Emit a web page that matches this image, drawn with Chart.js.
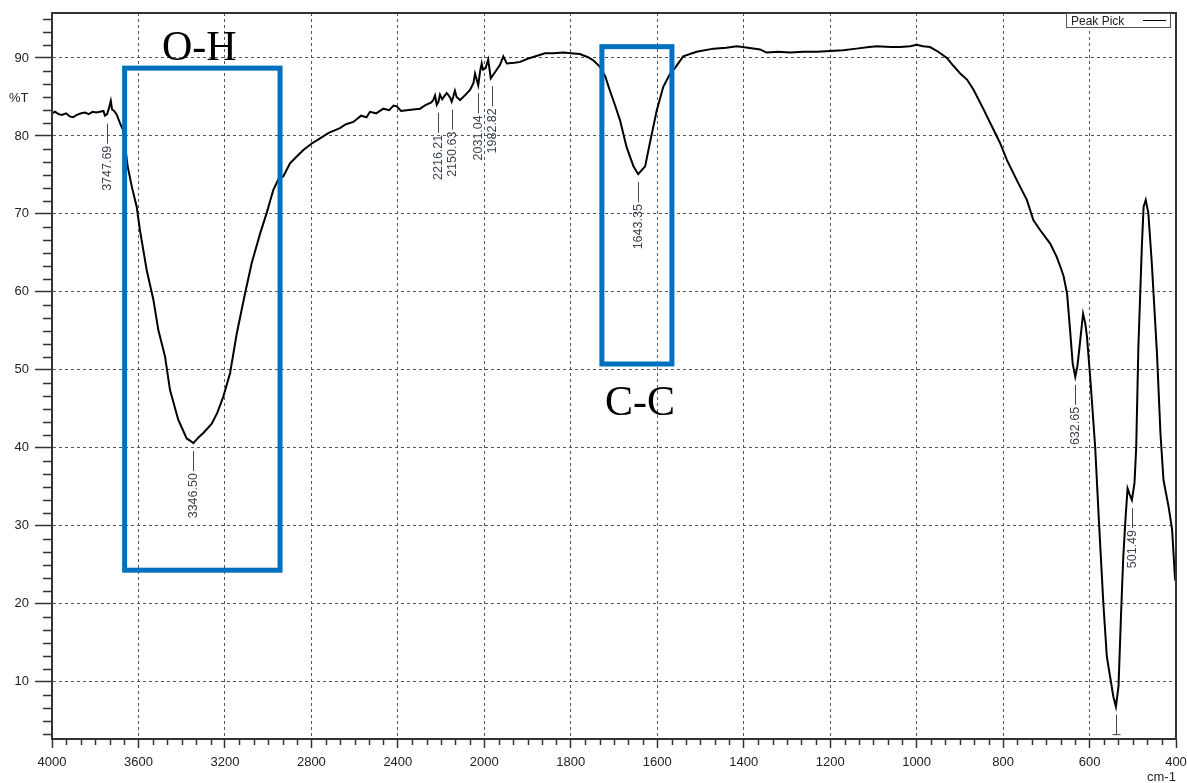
<!DOCTYPE html>
<html>
<head>
<meta charset="utf-8">
<script src="https://cdn.jsdelivr.net/npm/chart.js@4.4.0/dist/chart.umd.min.js"></script>
<style>
    html, body { margin: 0; padding: 0; background: #fff; }
    #wrap { position: relative; width: 1187px; height: 783px; }
</style>
</head>
<body>
<div id="wrap"><canvas id="ftir" width="1187" height="783"></canvas></div>
<script>
// Spectrum: wavenumber (cm-1) and %T
    var wavenumbers = [4000,3986,3970,3954,3935,3918,3903,3885,3865,3847,3830,3812,3795,3778,3762,3755,3745,3736,3728,3722,3712,3700,3685,3672,3660,3650,3630,3608,3593,3562,3531,3508,3477,3454,3416,3377,3360,3346,3320,3300,3261,3235,3207,3176,3145,3107,3076,3037,3007,2976,2950,2930,2899,2870,2837,2800,2760,2720,2668,2640,2606,2570,2545,2529,2500,2467,2440,2420,2405,2385,2359,2330,2297,2270,2245,2236,2228,2220,2212,2205,2195,2185,2174,2165,2158,2151,2144,2136,2128,2112,2090,2066,2050,2043,2036,2028,2020,2012,2006,1997,1991,1985,1975,1964,1956,1948,1930,1917,1900,1883,1860,1840,1817,1800,1779,1760,1748,1733,1720,1710,1698,1686,1671,1655,1644,1628,1617,1601,1586,1570,1559,1540,1509,1470,1440,1416,1390,1362,1347,1320,1293,1262,1230,1201,1170,1139,1110,1092,1060,1038,1015,1000,985,969,950,930,915,899,883,868,846,822,807,791,768,745,730,714,691,676,666,660,652,645,639,633,628,624,615,610,606,598,587,578,568,560,545,539,533,527,522,516,512,507,502,496,492,487,479,475,470,464,456,444,436,429,417,409,402];
    var transmittance = [82.9,83.1,82.8,82.7,82.9,82.5,82.4,82.7,82.9,83.0,82.8,83.1,83.0,83.1,83.2,82.6,82.8,83.6,84.5,83.4,83.2,82.7,81.6,80.8,78.3,76.1,73.4,70.9,67.9,62.8,59.0,55.1,51.7,47.4,43.6,41.2,40.9,40.6,41.4,41.9,43.1,44.5,46.6,49.6,54.7,59.8,63.7,67.5,70.1,73.1,74.6,74.8,76.5,77.3,78.2,79.0,79.7,80.4,81.0,81.5,81.8,82.6,82.4,83.1,82.9,83.5,83.3,83.9,83.8,83.2,83.3,83.4,83.5,84.0,84.3,84.6,85.2,84.0,84.4,85.3,84.7,85.1,85.5,85.2,84.9,84.4,85.0,85.8,85.0,84.6,85.2,85.9,86.8,88.0,87.3,86.5,88.2,89.3,88.5,88.7,89.8,87.4,88.2,89.1,90.2,89.3,89.4,89.5,89.9,90.2,90.6,90.6,90.7,90.6,90.5,90.1,89.7,88.9,87.6,85.9,84.0,82.0,78.6,76.1,75.1,76.1,79.1,83.3,86.3,88.0,88.7,90.2,90.8,91.2,91.3,91.5,91.3,91.1,90.7,90.8,90.7,90.8,90.8,90.9,91.0,91.2,91.4,91.5,91.4,91.4,91.5,91.7,91.5,91.4,90.8,90.0,89.0,88.0,87.2,85.9,83.5,80.8,79.1,76.9,74.3,71.8,69.2,67.9,66.2,64.5,63.0,62.0,59.8,55.1,50.8,49.1,50.5,52.5,57.2,56.0,54.3,48.7,40.1,30.3,20.0,13.2,8.1,6.8,9.4,18.8,26.0,31.6,34.8,34.0,33.3,35.5,40.1,53.0,65.8,70.9,71.8,70.1,63.7,52.1,41.9,35.9,32.4,29.5,23.0];

// Axis ticks (x axis is split: 400 per division above 2000, 200 below)
    var xTickLabels = ['4000','3600','3200','2800','2400','2000','1800','1600','1400','1200','1000','800','600','400'];
    var yTickValues = [10,20,30,40,50,60,70,80,90];

// Peak pick
    var peakWn = [3747.69,3346.50,2216.21,2150.63,2031.04,1982.82,1643.35,632.65,501.49,538.5];
    var peakT = [82.6,40.6,84.0,84.4,86.5,87.4,75.1,49.1,33.3,6.8];
    var peakLabels = ['3747.69','3346.50','2216.21','2150.63','2031.04','1982.82','1643.35','632.65','501.49',''];

// Highlight boxes
    var boxLabels = ['O-H','C-C'];
    var boxWnFrom = [3664,1728];
    var boxWnTo = [2945,1566];
    var boxTTop = [88.7,91.45];
    var boxTBottom = [24.3,50.75];
    var boxLabelSide = ['top','bottom'];

function wnToAxis(w){
    if (w >= 2000) return (4000 - w) / 400;
    return 5 + (2000 - w) / 200;
}

var points = [];
for (let i = 0; i < wavenumbers.length; i++) {
    points.push({x: wnToAxis(wavenumbers[i]), y: transmittance[i]});
}

var ftirDecor = {
    id: 'ftirDecor',
    afterDraw: function(chart){
        let ctx = chart.ctx;
        let a = chart.chartArea;
        let xs = chart.scales.x, ys = chart.scales.y;
        ctx.save();

        // minor ticks
        ctx.strokeStyle = '#333';
        ctx.lineWidth = 1.5;
        ctx.beginPath();
        for (let v = 90 + 10/6; v <= ys.max; v += 10/6) {
            let py = Math.round(ys.getPixelForValue(v)) + 0.5;
            ctx.moveTo(a.left - 9, py); ctx.lineTo(a.left, py);
        }
        for (let v = 90 - 10/6; v >= ys.min; v -= 10/6) {
            if (Math.abs(v/10 - Math.round(v/10)) < 0.01) continue;
            let py = Math.round(ys.getPixelForValue(v)) + 0.5;
            ctx.moveTo(a.left - 9, py); ctx.lineTo(a.left, py);
        }
        for (let k = 0; k <= 13*6; k++) {
            if (k % 6 == 0) continue;
            let px = Math.round(xs.getPixelForValue(k/6)) + 0.5;
            ctx.moveTo(px, a.bottom); ctx.lineTo(px, a.bottom + 6);
        }
        ctx.stroke();

        // frame
        ctx.lineWidth = 2;
        ctx.strokeStyle = '#333';
        ctx.strokeRect(a.left, a.top, a.right - a.left, a.bottom - a.top);

        // peak labels, clipped to the plot
        ctx.save();
        ctx.beginPath();
        ctx.rect(a.left, a.top, a.right - a.left, a.bottom - a.top);
        ctx.clip();
        ctx.font = '12.5px "Liberation Sans", Arial, sans-serif';
        for (let i = 0; i < peakWn.length; i++) {
            let px = Math.round(xs.getPixelForValue(wnToAxis(peakWn[i]))) + 0.5;
            let py = ys.getPixelForValue(peakT[i]);
            ctx.strokeStyle = '#444';
            ctx.lineWidth = 1;
            ctx.beginPath();
            ctx.moveTo(px, py + 8); ctx.lineTo(px, py + 28);
            if (!peakLabels[i]) { ctx.moveTo(px - 4, py + 28); ctx.lineTo(px + 4, py + 28); }
            ctx.stroke();
            if (peakLabels[i]) {
                ctx.save();
                ctx.translate(px, py + 30);
                ctx.rotate(-Math.PI/2);
                ctx.fillStyle = '#3a4150';
                ctx.textAlign = 'right';
                ctx.textBaseline = 'middle';
                ctx.fillText(peakLabels[i], 0, 0);
                ctx.restore();
            }
        }
        ctx.restore();

        // highlight boxes
        ctx.strokeStyle = '#0070C0';
        ctx.lineWidth = 5;
        ctx.fillStyle = '#000';
        ctx.font = '42px "Liberation Serif", "Times New Roman", serif';
        ctx.textAlign = 'center';
        for (let i = 0; i < boxLabels.length; i++) {
            let x1 = xs.getPixelForValue(wnToAxis(boxWnFrom[i]));
            let x2 = xs.getPixelForValue(wnToAxis(boxWnTo[i]));
            let y1 = ys.getPixelForValue(boxTTop[i]);
            let y2 = ys.getPixelForValue(boxTBottom[i]);
            ctx.strokeRect(x1, y1, x2 - x1, y2 - y1);
            ctx.textBaseline = 'alphabetic';
            if (boxLabelSide[i] == 'top') {
                ctx.fillText(boxLabels[i], (x1 + x2)/2 - 3, y1 - 8);
            } else {
                ctx.fillText(boxLabels[i], (x1 + x2)/2 + 3, y2 + 51);
            }
        }

        // legend box
        ctx.fillStyle = '#fff';
        ctx.fillRect(1066, a.top, 104, 14);
        ctx.strokeStyle = '#555';
        ctx.lineWidth = 1;
        ctx.strokeRect(1066.5, a.top + 0.5, 104, 14);
        ctx.fillStyle = '#222';
        ctx.font = '12px "Liberation Sans", Arial, sans-serif';
        ctx.textAlign = 'left';
        ctx.textBaseline = 'alphabetic';
        ctx.fillText('Peak Pick', 1071, a.top + 12);
        ctx.strokeStyle = '#000';
        ctx.beginPath();
        ctx.moveTo(1143, a.top + 7.5); ctx.lineTo(1166, a.top + 7.5);
        ctx.stroke();

        // axis titles
        ctx.font = '13px "Liberation Sans", Arial, sans-serif';
        ctx.fillStyle = '#222';
        ctx.fillText('%T', 9, 102);
        ctx.fillText('cm-1', 1147, 781);

        ctx.restore();
    }
};

var ctx = document.getElementById('ftir').getContext('2d');
var ftirChart = new Chart(ctx, {
    type: 'line',
    data: {
        datasets: [{
            label: 'Peak Pick',
            data: points,
            borderColor: '#000',
            borderWidth: 2,
            pointRadius: 0,
            tension: 0,
            fill: false
        }]
    },
    options: {
        responsive: false,
        animation: false,
        devicePixelRatio: 1,
        layout: { padding: { top: 13, right: 11, left: 0, bottom: 0 } },
        plugins: { legend: { display: false }, tooltip: { enabled: false } },
        scales: {
            x: {
                type: 'linear',
                min: 0,
                max: 13,
                afterBuildTicks: function(s){ s.ticks = xTickLabels.map(function(t, i){ return {value: i}; }); },
                afterFit: function(s){ s.height = 44; s.paddingLeft = 0; s.paddingRight = 0; },
                ticks: {
                    autoSkip: false,
                    maxRotation: 0,
                    padding: 7,
                    color: '#222',
                    font: { family: '"Liberation Sans", Arial, sans-serif', size: 13 },
                    callback: function(v){ return xTickLabels[Math.round(v)]; }
                },
                grid: { color: '#555', lineWidth: 1, tickLength: 9, tickColor: '#333', tickWidth: 1.5 },
                border: { display: true, color: '#333', width: 2, dash: [3, 3] }
            },
            y: {
                type: 'linear',
                min: 2.65,
                max: 95.77,
                afterBuildTicks: function(s){ s.ticks = yTickValues.map(function(v){ return {value: v}; }); },
                afterFit: function(s){ s.width = 52; s.paddingTop = 0; s.paddingBottom = 0; },
                ticks: {
                    padding: 6,
                    color: '#222',
                    font: { family: '"Liberation Sans", Arial, sans-serif', size: 13 }
                },
                grid: { color: '#555', lineWidth: 1, tickLength: 17, tickColor: '#333', tickWidth: 1.5 },
                border: { display: true, color: '#333', width: 2, dash: [3, 3] }
            }
        }
    },
    plugins: [ftirDecor]
});
</script>
</body>
</html>
